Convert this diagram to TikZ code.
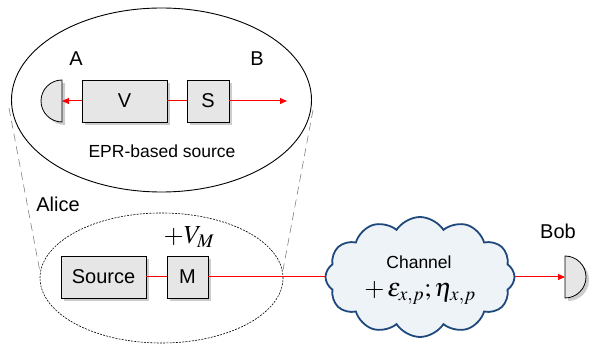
\documentclass[tikz,border=0pt]{standalone}
\usepackage{mathptmx}
\usepackage{fontspec}
\setmainfont{Liberation Sans}
\usetikzlibrary{shapes.symbols,shadows,arrows.meta}
\definecolor{boxgray}{RGB}{230,230,230}
\definecolor{shadowgray}{RGB}{205,205,205}
\definecolor{cloudblue}{RGB}{31,73,125}
\definecolor{cloudfill}{RGB}{238,243,248}
\tikzset{
  block/.style={draw, line width=0.8pt, fill=boxgray, minimum height=42pt, inner sep=0pt,
    drop shadow={shadow xshift=3pt, shadow yshift=-3pt, fill=shadowgray, opacity=1},
    font=\fontsize{20}{24}\selectfont},
  tag/.style={font=\fontsize{20}{24}\selectfont},
  smalltag/.style={font=\fontsize{17.5}{21}\selectfont, inner sep=0pt},
  mathtag/.style={font=\fontsize{26}{30}\selectfont, inner sep=0pt},
  beam/.style={red, line width=1pt},
  ray/.style={beam, -{Triangle[length=7pt,width=6pt]}},
  detector/.style={draw, line width=0.8pt, fill=boxgray},
}
\begin{document}
\begin{tikzpicture}[x=1pt,y=1pt]
  \useasboundingbox (0,0) rectangle (589,345);
  % EPR-based source
  \draw[line width=0.9pt] (161.5,245) ellipse (150 and 92);
  \node[block, minimum width=85pt] (V) at (124.5,244) {V};
  \node[block, minimum width=42pt] (S) at (208,244) {S};
  \coordinate (detA) at (62,244);
  \coordinate (Bend) at (287,244);
  \fill[shadowgray] (65,262) arc (90:270:21) -- cycle;
  \draw[detector] (62,265) arc (90:270:21) -- cycle;
  \node[tag] (A) at (76,286) {A};
  \node[tag] (B) at (257,286) {B};
  \node[smalltag] (epr) at (162,194) {EPR-based source};
  \draw[beam] (S.west) -- (V.east);
  \draw[ray] (V.west) -- (detA);
  \draw[ray] (S.east) -- (Bend);
  % zoom lines
  \coordinate (zl1) at (9,237);
  \coordinate (zl2) at (40,73);
  \coordinate (zr1) at (313,235);
  \coordinate (zr2) at (283,75);
  \draw[gray, line width=0.6pt, dash pattern=on 8pt off 5pt] (zl1) -- (zl2);
  \draw[gray, line width=0.6pt, dash pattern=on 8pt off 5pt] (zr1) -- (zr2);
  % Alice
  \node[tag] (alice) at (58,141) {Alice};
  \draw[line width=0.6pt, dash pattern=on 2pt off 1.2pt] (161.5,67) ellipse (121.5 and 65);
  \node[block, minimum width=85pt] (source) at (103.5,68) {Source};
  \node[block, minimum width=41pt] (M) at (187.5,68) {M};
  \node[mathtag] (VM) at (189,108) {$+V_M$};
  % channel
  \node[cloud, draw=cloudblue, line width=1.8pt, fill=cloudfill, cloud puffs=12,
    cloud puff arc=115, aspect=1.6, minimum width=189pt, minimum height=120pt,
    inner sep=0pt] (channel) at (420,68) {};
  \node[smalltag] (chname) at (419,83) {Channel};
  \node[mathtag] (noise) at (420,52) {$+\,\varepsilon_{x,p};\eta_{x,p}$};
  % Bob
  \node[tag] (bob) at (558,114) {Bob};
  \coordinate (detB) at (565,68);
  \fill[shadowgray] (568,86) arc (90:-90:21) -- cycle;
  \draw[detector] (565,89) arc (90:-90:21) -- cycle;
  \draw[beam] (source.east) -- (M.west);
  \draw[beam] (M.east) -- (channel.west);
  \draw[ray] (channel.east) -- (detB);
\end{tikzpicture}
\end{document}
